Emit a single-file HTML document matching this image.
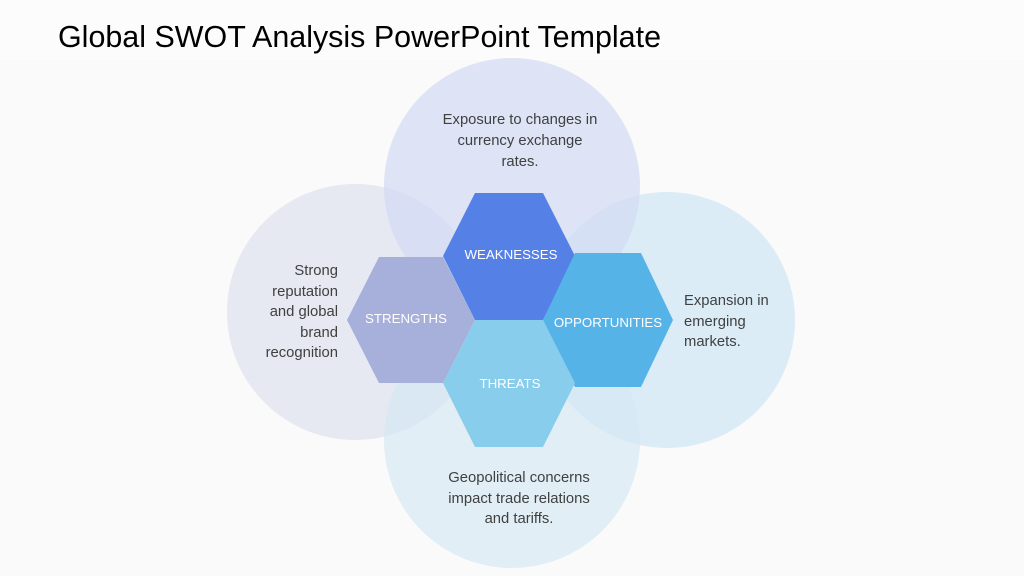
<!DOCTYPE html>
<html><head><meta charset="utf-8"><style>
html,body{margin:0;padding:0;width:1024px;height:576px;overflow:hidden;background:#fdfdfd;}
</style></head><body>
<svg width="1024" height="576" viewBox="0 0 1024 576" xmlns="http://www.w3.org/2000/svg" style="position:absolute;left:0;top:0">
<rect width="1024" height="576" fill="#fcfcfc"/>
<rect x="0" y="60" width="1024" height="516" fill="#f8f8f8" opacity="0.6"/>
<circle cx="355" cy="312" r="128" fill="#dfe2ef" opacity="0.75"/>
<circle cx="667" cy="320" r="128" fill="#cfe6f5" opacity="0.72"/>
<circle cx="512" cy="440" r="128" fill="#d4e8f5" opacity="0.65"/>
<circle cx="512" cy="186" r="128" fill="#d2dbf4" opacity="0.72"/>
<g font-family="Liberation Sans, sans-serif" font-size="14.8" fill="#404040">
<text x="520" y="124" text-anchor="middle">Exposure to changes in</text>
<text x="520" y="145" text-anchor="middle">currency exchange</text>
<text x="520" y="166" text-anchor="middle">rates.</text>
<text x="338" y="275" text-anchor="end">Strong</text>
<text x="338" y="296" text-anchor="end">reputation</text>
<text x="338" y="316" text-anchor="end">and global</text>
<text x="338" y="337" text-anchor="end">brand</text>
<text x="338" y="357" text-anchor="end">recognition</text>
<text x="684" y="305">Expansion in</text>
<text x="684" y="326">emerging</text>
<text x="684" y="346">markets.</text>
<text x="519" y="482" text-anchor="middle">Geopolitical concerns</text>
<text x="519" y="503" text-anchor="middle">impact trade relations</text>
<text x="519" y="523" text-anchor="middle">and tariffs.</text>
</g>
<polygon points="379,257 443,257 475,320 443,383 379,383 347,320" fill="#a7b0da"/>
<polygon points="475,193 543,193 575,256 543,320 475,320 443,256" fill="#5580e6"/>
<polygon points="575,253 641,253 673,320 641,387 575,387 543,320" fill="#55b3e8"/>
<polygon points="475,320 543,320 575,383 543,447 475,447 443,383" fill="#88cdec"/>
<g font-family="Liberation Sans, sans-serif" font-size="13.3" fill="#ffffff" text-anchor="middle">
<text x="511" y="259">WEAKNESSES</text>
<text x="406" y="323">STRENGTHS</text>
<text x="608" y="327">OPPORTUNITIES</text>
<text x="510" y="388">THREATS</text>
</g>
<text x="58" y="47" font-family="Liberation Sans, sans-serif" font-size="30.5" fill="#000" textLength="603" lengthAdjust="spacingAndGlyphs">Global SWOT Analysis PowerPoint Template</text>
</svg>
</body></html>
